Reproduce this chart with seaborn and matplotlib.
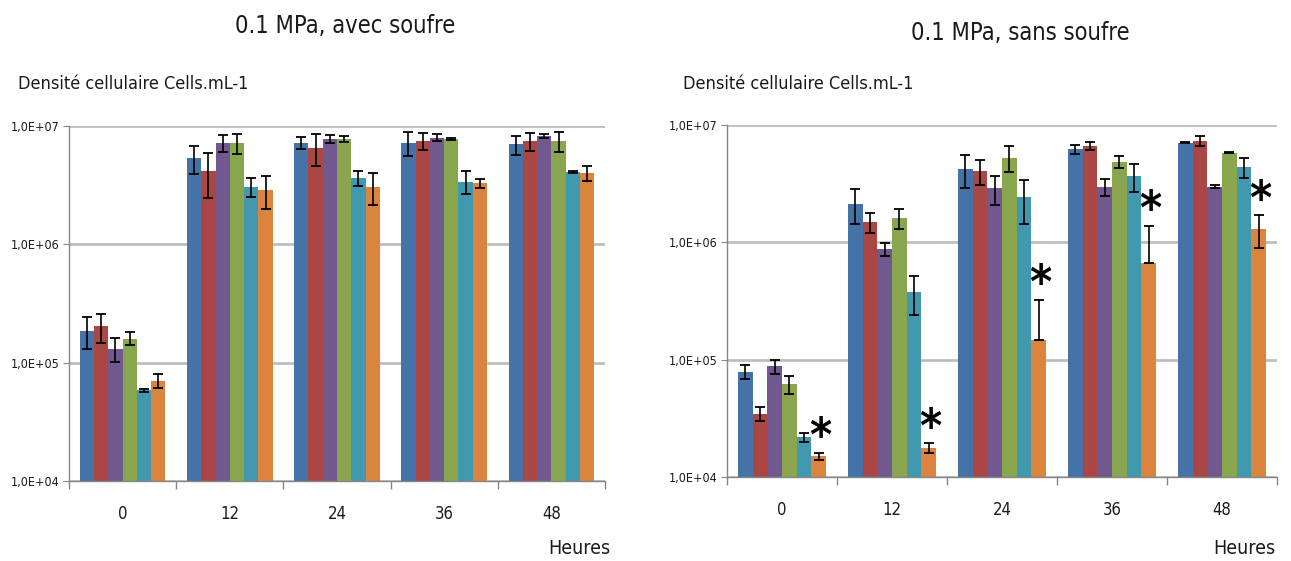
import numpy as np
import pandas as pd
import matplotlib
matplotlib.use('Agg')
import matplotlib.pyplot as plt
import seaborn as sns

# hours (x categories)
hours = ['0', '12', '24', '36', '48']
series = ['A', 'B', 'C', 'D', 'E', 'F']
palette = ['#4572A7', '#AA4643', '#71588F', '#89A54E', '#4198AF', '#DB843D']

# 0.1 MPa, avec soufre - means
avec_a = [1.86e5, 5.33e6, 7.23e6, 7.23e6, 7.00e6]
avec_b = [2.03e5, 4.17e6, 6.56e6, 7.47e6, 7.47e6]
avec_c = [1.31e5, 7.23e6, 7.76e6, 7.97e6, 8.28e6]
avec_d = [1.60e5, 7.23e6, 7.76e6, 7.76e6, 7.47e6]
avec_e = [5.84e4, 3.08e6, 3.64e6, 3.39e6, 4.07e6]
avec_f = [7.05e4, 2.88e6, 3.08e6, 3.28e6, 4.04e6]
# error bars
avec_err_a = [5.5e4, 1.4e6, 0.8e6, 1.6e6, 1.3e6]
avec_err_b = [5.5e4, 1.7e6, 2.0e6, 1.2e6, 1.3e6]
avec_err_c = [3.0e4, 1.2e6, 0.6e6, 0.55e6, 0.3e6]
avec_err_d = [2.0e4, 1.4e6, 0.4e6, 0.1e6, 1.4e6]
avec_err_e = [2.0e3, 0.55e6, 0.5e6, 0.75e6, 0.1e6]
avec_err_f = [9.0e3, 0.9e6, 0.95e6, 0.27e6, 0.58e6]

# 0.1 MPa, sans soufre - means
sans_a = [7.9e4, 2.13e6, 4.20e6, 6.21e6, 7.07e6]
sans_b = [3.45e4, 1.49e6, 4.06e6, 6.63e6, 7.31e6]
sans_c = [8.77e4, 8.8e5, 2.89e6, 2.99e6, 2.99e6]
sans_d = [6.2e4, 1.61e6, 5.27e6, 4.88e6, 5.82e6]
sans_e = [2.18e4, 3.77e5, 2.42e6, 3.68e6, 4.39e6]
sans_f = [1.5e4, 1.77e4, 1.48e5, 6.73e5, 1.30e6]
# error bars
sans_err_a = [1.1e4, 0.7e6, 1.3e6, 0.55e6, 0.1e6]
sans_err_b = [4.7e3, 0.28e6, 1.0e6, 0.5e6, 0.75e6]
sans_err_c = [1.25e4, 1.1e5, 0.8e6, 0.5e6, 0.1e6]
sans_err_d = [1.1e4, 0.32e6, 1.3e6, 0.55e6, 0.08e6]
sans_err_e = [1.9e3, 1.35e5, 1.0e6, 1.0e6, 0.87e6]
sans_err_f = [1.0e3, 1.7e3, 1.76e5, 7.1e5, 0.4e6]

# significance stars (sans soufre, last series)
sans_stars_f = [True, True, True, True, True]

ytick_vals = [1e4, 1e5, 1e6, 1e7]
ytick_labels = ['1,0E+04', '1,0E+05', '1,0E+06', '1,0E+07']

sns.set_style('white')
# condensed face, closest to the narrow excel font
plt.rcParams['font.family'] = ['DejaVu Sans']
plt.rcParams['font.stretch'] = 'condensed'
TXT = '#1a1a1a'
AX_GREY = '#868686'
GRID_GREY = '#BEBEBE'


def long_df(vals):
    rows = []
    for s, v in zip(series, vals):
        for h, y in zip(hours, v):
            rows.append({'Heures': h, 'serie': s, 'val': y})
    return pd.DataFrame(rows)


def draw_panel(ax, vals, errs, stars=None):
    df = long_df(vals)
    ax.set_yscale('log')
    sns.barplot(data=df, x='Heures', y='val', hue='serie', order=hours, hue_order=series,
                palette=palette, saturation=1, width=0.8, legend=False, ax=ax,
                edgecolor='none', linewidth=0)
    ax.set_ylim(1e4, 1e7)
    ax.set_xlim(-0.5, len(hours) - 0.5)
    bar_conts = list(ax.containers)

    # error bars - minus part dropped when it would go below zero (like excel)
    for cont, v, e in zip(bar_conts, vals, errs):
        xs = [b.get_x() + b.get_width() / 2 for b in cont]
        lo = [ee if ee < vv else 0 for vv, ee in zip(v, e)]
        ax.errorbar(xs, v, yerr=[lo, e], fmt='none', ecolor='black', elinewidth=1.2,
                    capsize=3.5, capthick=1.3, zorder=5)

    if stars is not None:
        cont = bar_conts[-1]
        for b, v, e, st in zip(cont, vals[-1], errs[-1], stars):
            if st:
                ax.annotate('*', xy=(b.get_x() + b.get_width() / 2, v + e), xytext=(1, -6),
                            textcoords='offset points', ha='center', va='bottom',
                            fontsize=34, fontweight='bold', color='black')

    # grid, spines
    ax.grid(False)
    for yv in ytick_vals:
        ax.axhline(yv, color=GRID_GREY, lw=2, zorder=0)
    ax.set_axisbelow(True)
    for sp in ['top', 'right']:
        ax.spines[sp].set_visible(False)
    for sp in ['left', 'bottom']:
        ax.spines[sp].set_color(AX_GREY)
        ax.spines[sp].set_linewidth(1)
    ax.set_yticks(ytick_vals)
    ax.set_yticklabels(ytick_labels)
    ax.yaxis.set_minor_locator(matplotlib.ticker.NullLocator())
    ax.tick_params(axis='y', which='major', left=True, length=4, color=AX_GREY,
                   labelsize=9, labelcolor=TXT, pad=3)
    ax.set_xticks(range(len(hours)))
    ax.set_xticklabels(hours)
    ax.set_xticks(np.arange(-0.5, len(hours), 1.0), minor=True)
    ax.tick_params(axis='x', which='major', length=0, labelsize=12, labelcolor=TXT, pad=17)
    ax.tick_params(axis='x', which='minor', bottom=True, length=6, color=AX_GREY, width=1)
    ax.set_xlabel('')
    ax.set_ylabel('')


W, H = 1291, 561
fig = plt.figure(figsize=(W / 100, H / 100), dpi=100)
ax1 = fig.add_axes([69 / W, (H - 481) / H, (605 - 69) / W, (481 - 126) / H])
ax2 = fig.add_axes([727 / W, (H - 477) / H, (1277 - 727) / W, (477 - 125) / H])

draw_panel(ax1, [avec_a, avec_b, avec_c, avec_d, avec_e, avec_f],
           [avec_err_a, avec_err_b, avec_err_c, avec_err_d, avec_err_e, avec_err_f])
draw_panel(ax2, [sans_a, sans_b, sans_c, sans_d, sans_e, sans_f],
           [sans_err_a, sans_err_b, sans_err_c, sans_err_d, sans_err_e, sans_err_f],
           stars=sans_stars_f)

# titles and axis texts
fig.text(345 / W, 1 - 26 / H, '0.1 MPa, avec soufre', ha='center', va='center', fontsize=17, color=TXT)
fig.text(1020 / W, 1 - 33 / H, '0.1 MPa, sans soufre', ha='center', va='center', fontsize=17, color=TXT)
fig.text(18 / W, 1 - 84 / H, 'Densité cellulaire Cells.mL-1', ha='left', va='center', fontsize=13, color=TXT)
fig.text(683 / W, 1 - 84 / H, 'Densité cellulaire Cells.mL-1', ha='left', va='center', fontsize=13, color=TXT)
fig.text(610 / W, 1 - 549 / H, 'Heures', ha='right', va='center', fontsize=14, color=TXT)
fig.text(1275 / W, 1 - 549 / H, 'Heures', ha='right', va='center', fontsize=14, color=TXT)

plt.savefig('out.png', dpi=100)
plt.close()
